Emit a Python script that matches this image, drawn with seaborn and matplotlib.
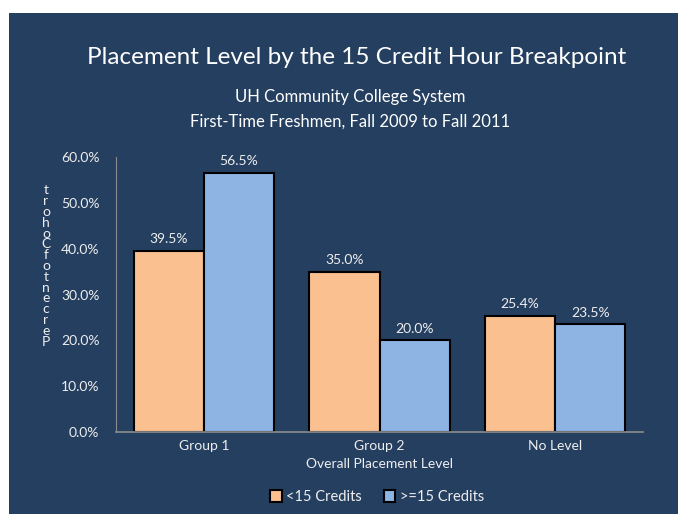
import pandas as pd
import matplotlib.pyplot as plt
import seaborn as sns
from matplotlib.patches import Rectangle

levels = ['Group 1', 'Group 2', 'No Level']
under_15 = [0.395, 0.350, 0.254]
over_15 = [0.565, 0.200, 0.235]
series = ['<15 Credits', '>=15 Credits']

rows = []
for i, lvl in enumerate(levels):
    rows.append({'Level': lvl, 'Credits': series[0], 'Pct': under_15[i]})
    rows.append({'Level': lvl, 'Credits': series[1], 'Pct': over_15[i]})
df = pd.DataFrame(rows)

navy = '#253F60'
txt = '#EEEEEE'
palette = {series[0]: '#FAC090', series[1]: '#8EB4E3'}

sns.set_theme(style='white')
plt.rcParams['font.family'] = ['Lato', 'DejaVu Sans']

fig = plt.figure(figsize=(6.78, 5.14), dpi=100, facecolor='white')
fig.patches.append(Rectangle((9 / 678, 0), 1, 501 / 514, transform=fig.transFigure,
                             facecolor=navy, edgecolor='none', zorder=-10))
ax = fig.add_axes([116 / 678, 82 / 514, 527 / 678, 275 / 514])
ax.set_facecolor(navy)

sns.barplot(data=df, x='Level', y='Pct', hue='Credits', palette=palette,
            edgecolor='black', linewidth=1.5, saturation=1, width=0.8, ax=ax)

for c in ax.containers:
    ax.bar_label(c, labels=[f'{v * 100:.1f}%' for v in c.datavalues],
                 padding=4, color=txt, fontsize=10)

ax.set_ylim(0, 0.6)
ax.set_xlim(-0.5, 2.5)
ax.set_yticks([i / 10 for i in range(7)])
ax.set_yticklabels([f'{i * 10:.1f}%' for i in range(7)], color=txt, fontsize=10)
ax.tick_params(axis='x', colors=txt, labelsize=10, length=0, pad=6)
ax.tick_params(axis='y', length=0, pad=12)
for s in ['top', 'right']:
    ax.spines[s].set_visible(False)
ax.spines['left'].set_color('#8C8C8C')
ax.spines['bottom'].set_color('#8C8C8C')
ax.spines['left'].set_linewidth(0.8)
ax.spines['bottom'].set_linewidth(1.2)

ax.set_xlabel('Overall Placement Level', color=txt, fontsize=10, labelpad=4)
ax.set_ylabel('')
# stacked letters, read bottom to top as in the original
ylab = '\n'.join(reversed('Percent of Cohort'.replace(' ', '')))
fig.text(46 / 678, 1 - 266 / 514, ylab, color=txt, fontsize=10, ha='center', va='center',
         linespacing=0.88)

fig.text(357 / 678, 1 - 58 / 514, 'Placement Level by the 15 Credit Hour Breakpoint',
         color='white', fontsize=17.5, ha='center', va='center')
fig.text(350 / 678, 1 - 97 / 514, 'UH Community College System',
         color='white', fontsize=12, ha='center', va='center')
fig.text(350 / 678, 1 - 122 / 514, 'First-Time Freshmen, Fall 2009 to Fall 2011',
         color='white', fontsize=12, ha='center', va='center')

ax.legend(title=None, loc='center', bbox_to_anchor=(377 / 678, 1 - 497 / 514),
          bbox_transform=fig.transFigure, ncol=2, frameon=False,
          labelcolor=txt, fontsize=10.5, handlelength=0.8, handleheight=0.8,
          handletextpad=0.3, columnspacing=1.5)

fig.savefig('out.png', dpi=100, facecolor='white')
